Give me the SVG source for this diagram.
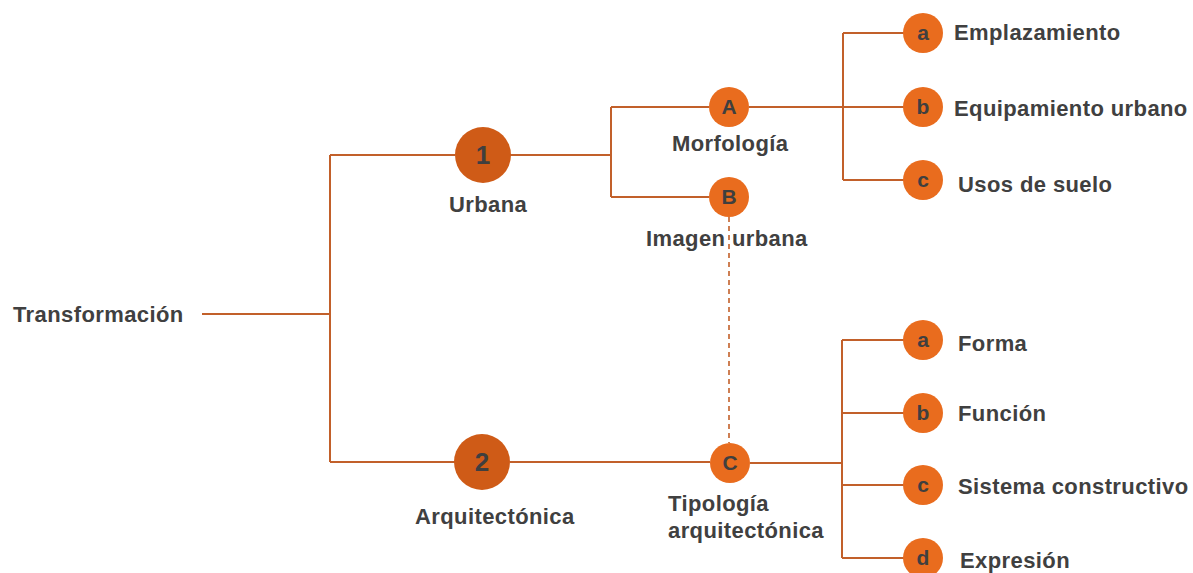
<svg xmlns="http://www.w3.org/2000/svg" width="1193" height="573" viewBox="0 0 1193 573">
<style>
.ln{stroke:#c2602a;stroke-width:2;fill:none}
.dash{stroke:#c2602a;stroke-width:1.6;fill:none;stroke-dasharray:5,4}
.big{fill:#cf5b17}
.sm{fill:#e96c1e}
.t{font-family:"Liberation Sans",Arial,sans-serif;font-weight:bold;font-size:22px;letter-spacing:0.4px;fill:#404040}
.n{font-family:"Liberation Sans",Arial,sans-serif;font-weight:bold;fill:#3f3f3f;text-anchor:middle}
</style>
<rect width="1193" height="573" fill="#ffffff"/>
<g id="connectors">
<path class="ln" d="M202 314H330M330 155V462M330 155H455M330 462H455"/>
<path class="ln" d="M510 155H611M611 107V197M611 107H709M611 197H709"/>
<path class="ln" d="M749 107H904M843 33V180M843 33H904M843 180H904"/>
<path class="ln" d="M510 462H710M750 463H842M842 340V558M842 340H904M842 413H904M842 485H904M842 558H904"/>
<path class="dash" d="M729 217V443"/>
</g>
<g id="root"><text class="t" x="13" y="322">Transformación</text></g>
<g id="n1"><circle class="big" cx="483" cy="155" r="28"/><text class="n" x="483" y="164" font-size="26">1</text><text class="t" x="449" y="212">Urbana</text></g>
<g id="n2"><circle class="big" cx="482" cy="462" r="28"/><text class="n" x="482" y="471" font-size="26">2</text><text class="t" x="415" y="524">Arquitectónica</text></g>
<g id="nA"><circle class="sm" cx="729" cy="107" r="20"/><text class="n" x="729" y="114" font-size="21">A</text><text class="t" x="672" y="151">Morfología</text></g>
<g id="nB"><circle class="sm" cx="729" cy="197" r="20"/><text class="n" x="729" y="204" font-size="21">B</text><text class="t" x="646" y="246">Imagen urbana</text></g>
<g id="nC"><circle class="sm" cx="730" cy="463" r="20"/><text class="n" x="730" y="470" font-size="21">C</text><text class="t" x="668" y="511">Tipología</text><text class="t" x="668" y="538">arquitectónica</text></g>
<g id="ua"><circle class="sm" cx="923" cy="33" r="20"/><text class="n" x="923" y="40" font-size="21">a</text><text class="t" x="954" y="40">Emplazamiento</text></g>
<g id="ub"><circle class="sm" cx="923" cy="107" r="20"/><text class="n" x="923" y="114" font-size="21">b</text><text class="t" x="954" y="116">Equipamiento urbano</text></g>
<g id="uc"><circle class="sm" cx="923" cy="180" r="20"/><text class="n" x="923" y="187" font-size="21">c</text><text class="t" x="958" y="192">Usos de suelo</text></g>
<g id="aa"><circle class="sm" cx="923" cy="340" r="20"/><text class="n" x="923" y="347" font-size="21">a</text><text class="t" x="958" y="351">Forma</text></g>
<g id="ab"><circle class="sm" cx="923" cy="413" r="20"/><text class="n" x="923" y="420" font-size="21">b</text><text class="t" x="958" y="421">Función</text></g>
<g id="ac"><circle class="sm" cx="923" cy="485" r="20"/><text class="n" x="923" y="492" font-size="21">c</text><text class="t" x="958" y="494">Sistema constructivo</text></g>
<g id="ad"><circle class="sm" cx="923" cy="558" r="20"/><text class="n" x="923" y="565" font-size="21">d</text><text class="t" x="960" y="568">Expresión</text></g>
</svg>
